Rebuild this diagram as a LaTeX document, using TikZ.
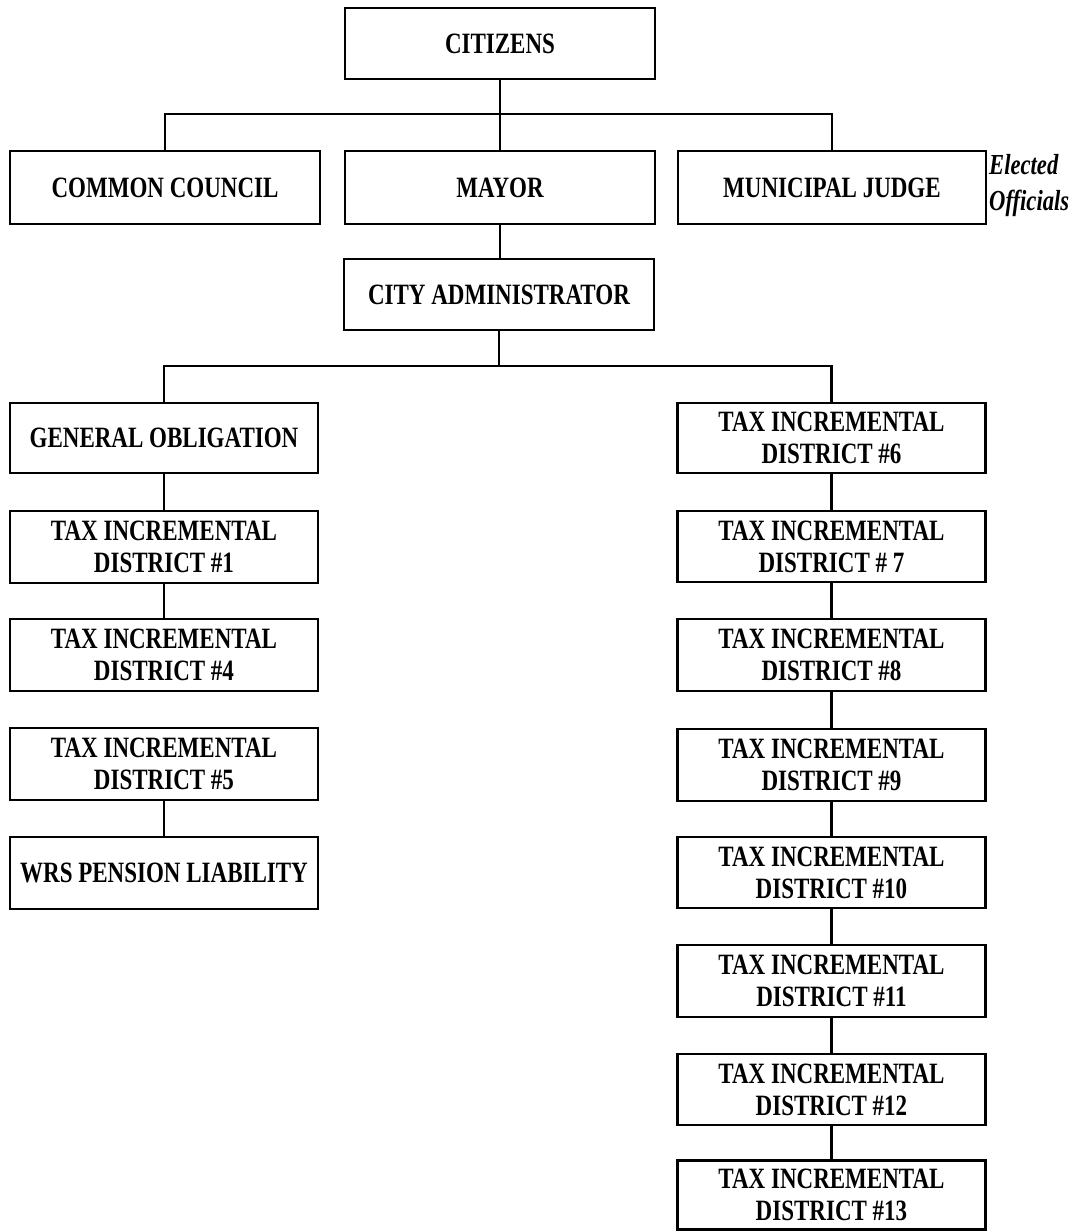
\documentclass[tikz,border=0pt]{standalone}
\usepackage{fontspec}
\newfontfamily\orgfont{Liberation Serif}[FakeStretch=0.78]
\begin{document}
\begin{tikzpicture}[x=1pt,y=-1pt,
  box/.style={draw, line width=2.8pt, inner sep=0pt, align=center,
    font=\orgfont\bfseries\fontsize{29.5}{32}\selectfont},
  wbox/.style={box, minimum width=310pt, minimum height=71pt},
  cbox/.style={box, minimum width=308pt, minimum height=71pt},
  conn/.style={line width=2.8pt}]
\useasboundingbox (0,0) rectangle (1073,1232);

% top levels
\node[wbox] (cit) at (500,43.5) {CITIZENS};
\node[wbox, minimum height=73pt] (cc) at (165,187.5) {COMMON COUNCIL};
\node[wbox, minimum height=73pt] (may) at (500,187.5) {MAYOR};
\node[cbox, minimum height=73pt] (mj) at (832,187.5) {MUNICIPAL JUDGE};
\node[anchor=north west, inner sep=0pt, align=left,
  font=\orgfont\bfseries\itshape\fontsize{29}{36}\selectfont] (eo) at (989,154) {Elected\\Officials};
\node[wbox] (adm) at (499,294.5) {CITY ADMINISTRATOR};

% left column
\node[cbox, minimum height=70pt] (go) at (164,438) {GENERAL OBLIGATION};
\node[cbox, minimum height=72pt] (t1) at (164,547) {TAX INCREMENTAL\\DISTRICT \#1};
\node[cbox, minimum height=72pt] (t4) at (164,655) {TAX INCREMENTAL\\DISTRICT \#4};
\node[cbox, minimum height=72pt] (t5) at (164,764) {TAX INCREMENTAL\\DISTRICT \#5};
\node[cbox, minimum height=72pt] (wrs) at (164,873) {WRS PENSION LIABILITY};

% right column
\node[cbox, minimum height=70pt] (t6) at (831.5,438) {TAX INCREMENTAL\\DISTRICT \#6};
\node[cbox] (t7) at (831.5,546.5) {TAX INCREMENTAL\\DISTRICT \# 7};
\node[cbox, minimum height=72pt] (t8) at (831.5,655) {TAX INCREMENTAL\\DISTRICT \#8};
\node[cbox, minimum height=72pt] (t9) at (831.5,765) {TAX INCREMENTAL\\DISTRICT \#9};
\node[cbox] (t10) at (831.5,872.5) {TAX INCREMENTAL\\DISTRICT \#10};
\node[cbox, minimum height=72pt] (t11) at (831.5,981) {TAX INCREMENTAL\\DISTRICT \#11};
\node[cbox] (t12) at (831.5,1089.5) {TAX INCREMENTAL\\DISTRICT \#12};
\node[cbox, minimum height=69pt] (t13) at (831.5,1195) {TAX INCREMENTAL\\DISTRICT \#13};

% connectors
\coordinate (j1) at (500,114);
\coordinate (j2) at (499,366);
\draw[conn] (cit.south) -- (j1);
\draw[conn] (cc.north) -- (cc.north |- j1) -- (mj.north |- j1) -- (mj.north);
\draw[conn] (j1) -- (may.north);
\draw[conn] (may.south) -- (may.south |- adm.north);
\draw[conn] (adm.south) -- (j2);
\draw[conn] (go.north) -- (go.north |- j2) -- (t6.north |- j2) -- (t6.north);

\draw[conn] (go) -- (t1);
\draw[conn] (t1) -- (t4);
\draw[conn] (t5) -- (wrs);

\draw[conn] (t6) -- (t7);
\draw[conn] (t7) -- (t8);
\draw[conn] (t8) -- (t9);
\draw[conn] (t9) -- (t10);
\draw[conn] (t10) -- (t11);
\draw[conn] (t11) -- (t12);
\draw[conn] (t12) -- (t13);
\end{tikzpicture}
\end{document}
